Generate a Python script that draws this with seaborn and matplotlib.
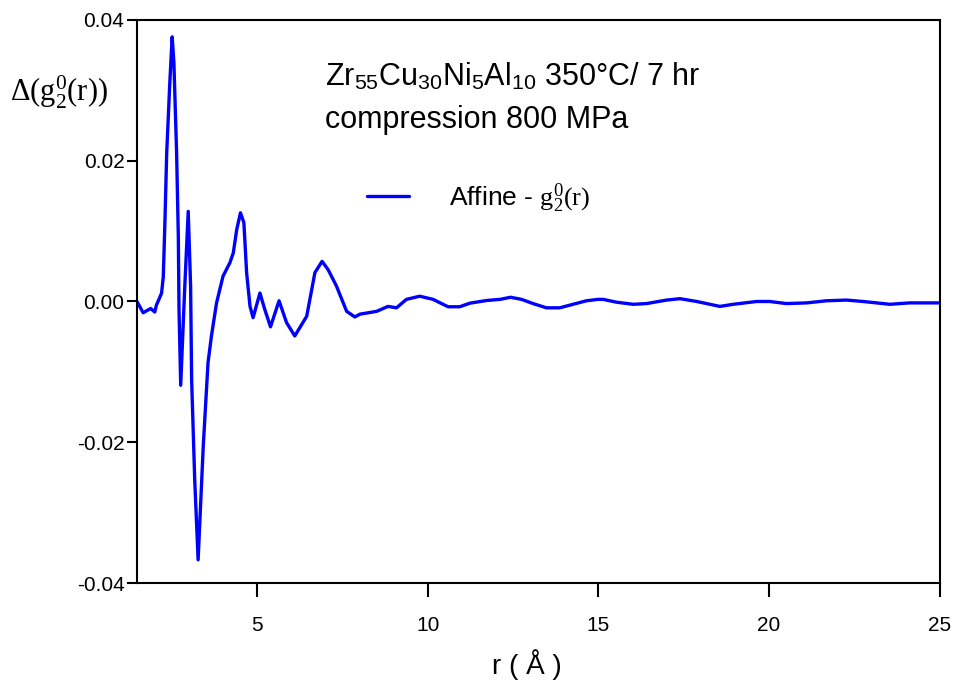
import numpy as np
import pandas as pd
import matplotlib
matplotlib.use("Agg")
import matplotlib.pyplot as plt
import seaborn as sns

# curve
r = [1.49, 1.67, 1.89, 2.01, 2.06, 2.15, 2.21, 2.26, 2.31, 2.36, 2.45, 2.52, 2.57,
     2.65, 2.70, 2.72, 2.77, 2.89, 2.99, 3.06, 3.09, 3.18, 3.28, 3.43, 3.57, 3.67,
     3.82, 4.01, 4.21, 4.31, 4.41, 4.52, 4.62, 4.70, 4.80, 4.89, 5.09, 5.23, 5.40,
     5.65, 5.87, 6.11, 6.46, 6.70, 6.91, 7.09, 7.33, 7.63, 7.87, 8.02, 8.51, 8.84,
     9.09, 9.38, 9.77, 10.16, 10.60, 10.94, 11.24, 11.73, 12.12, 12.43, 12.75,
     13.09, 13.48, 13.87, 14.26, 14.65, 14.99, 15.14, 15.53, 16.02, 16.41, 17.00,
     17.39, 17.88, 18.56, 18.95, 19.64, 20.02, 20.51, 21.10, 21.68, 22.27, 22.75,
     23.54, 24.12, 25.0]
dg = [0.0, -0.0016, -0.0010, -0.0015, -0.0005, 0.0005, 0.0012, 0.0035, 0.0117,
      0.0211, 0.0310, 0.0376, 0.0340, 0.0211, 0.0093, -0.0010, -0.0119, 0.0022,
      0.0128, 0.0022, -0.0111, -0.0253, -0.0367, -0.0206, -0.0087, -0.0049,
      -0.0002, 0.0036, 0.0055, 0.0069, 0.0102, 0.0126, 0.0112, 0.0041, -0.0007,
      -0.0023, 0.0012, -0.0011, -0.0036, 0.0001, -0.0030, -0.0049, -0.0021, 0.0041,
      0.0057, 0.0045, 0.0022, -0.0014, -0.0022, -0.0018, -0.0014, -0.0007, -0.0009,
      0.0003, 0.00075, 0.0003, -0.00075, -0.00075, -0.00024, 0.00014, 0.0003,
      0.0006, 0.0003, -0.0003, -0.0009, -0.0009, -0.0004, 0.0001, 0.0003, 0.0003,
      -0.0001, -0.0004, -0.0003, 0.0002, 0.0004, 0.0000, -0.0007, -0.0004, 0.0000,
      0.0000, -0.0003, -0.0002, 0.0001, 0.0002, 0.0000, -0.0004, -0.0002, -0.0002]

xticks = [5, 10, 15, 20, 25]
yticks = [-0.04, -0.02, 0.0, 0.02, 0.04]

df = pd.DataFrame({"r": r, "dg": dg})

sns.set_style("ticks")
plt.rcParams["font.family"] = ["Liberation Sans", "DejaVu Sans"]
plt.rcParams["mathtext.fontset"] = "custom"
plt.rcParams["mathtext.rm"] = "Liberation Serif"
plt.rcParams["mathtext.it"] = "Liberation Serif:italic"
plt.rcParams["mathtext.sf"] = "Liberation Sans"
plt.rcParams["axes.unicode_minus"] = False
plt.rcParams["text.color"] = "black"
plt.rcParams["xtick.color"] = "black"
plt.rcParams["ytick.color"] = "black"

fig = plt.figure(figsize=(9.58, 6.88), dpi=100)
ax = fig.add_axes([0.143, 0.1526, 0.838, 0.8184])

sns.lineplot(data=df, x="r", y="dg", ax=ax, color="#0000ff", linewidth=2.4,
             label=r"Affine - $\mathrm{g}_2^0(\mathrm{r})$")

ax.set_xlim(1.49, 25)
ax.set_ylim(-0.04, 0.04)
ax.set_xticks(xticks)
ax.set_yticks(yticks)
ax.set_yticklabels(["%.2f" % v for v in yticks])
ax.tick_params(axis="both", direction="out", length=7, width=1.5, labelsize=15,
               pad=2, color="black", labelcolor="black")
ax.tick_params(axis="x", length=10, pad=14)
for s in ax.spines.values():
    s.set_visible(True)
    s.set_linewidth(1.5)
    s.set_color("black")
ax.set_xlabel("")
ax.set_ylabel("")

fig.text(10 / 958, 1 - 92 / 688, r"$\Delta(\mathrm{g}_2^0(\mathrm{r}))$", fontsize=22,
         ha="left", va="center")
fig.text(527 / 958, 1 - 665 / 688, "r ( Å )", fontsize=20, ha="center", va="center")

fig.text(325 / 958, 1 - 85 / 688,
         r"Zr$_{\mathsf{55}}$Cu$_{\mathsf{30}}$Ni$_{\mathsf{5}}$Al$_{\mathsf{10}}$ 350°C/ 7 hr",
         fontsize=22, ha="left", va="baseline")
fig.text(325 / 958, 1 - 128 / 688, "compression 800 MPa", fontsize=22,
         ha="left", va="baseline")

ax.legend(loc="center left", bbox_to_anchor=(367 / 958, 1 - 198 / 688),
          bbox_transform=fig.transFigure, frameon=False, fontsize=19,
          handlelength=1.6, handletextpad=1.5, borderpad=0, borderaxespad=0)

fig.savefig("out.png", dpi=100)
